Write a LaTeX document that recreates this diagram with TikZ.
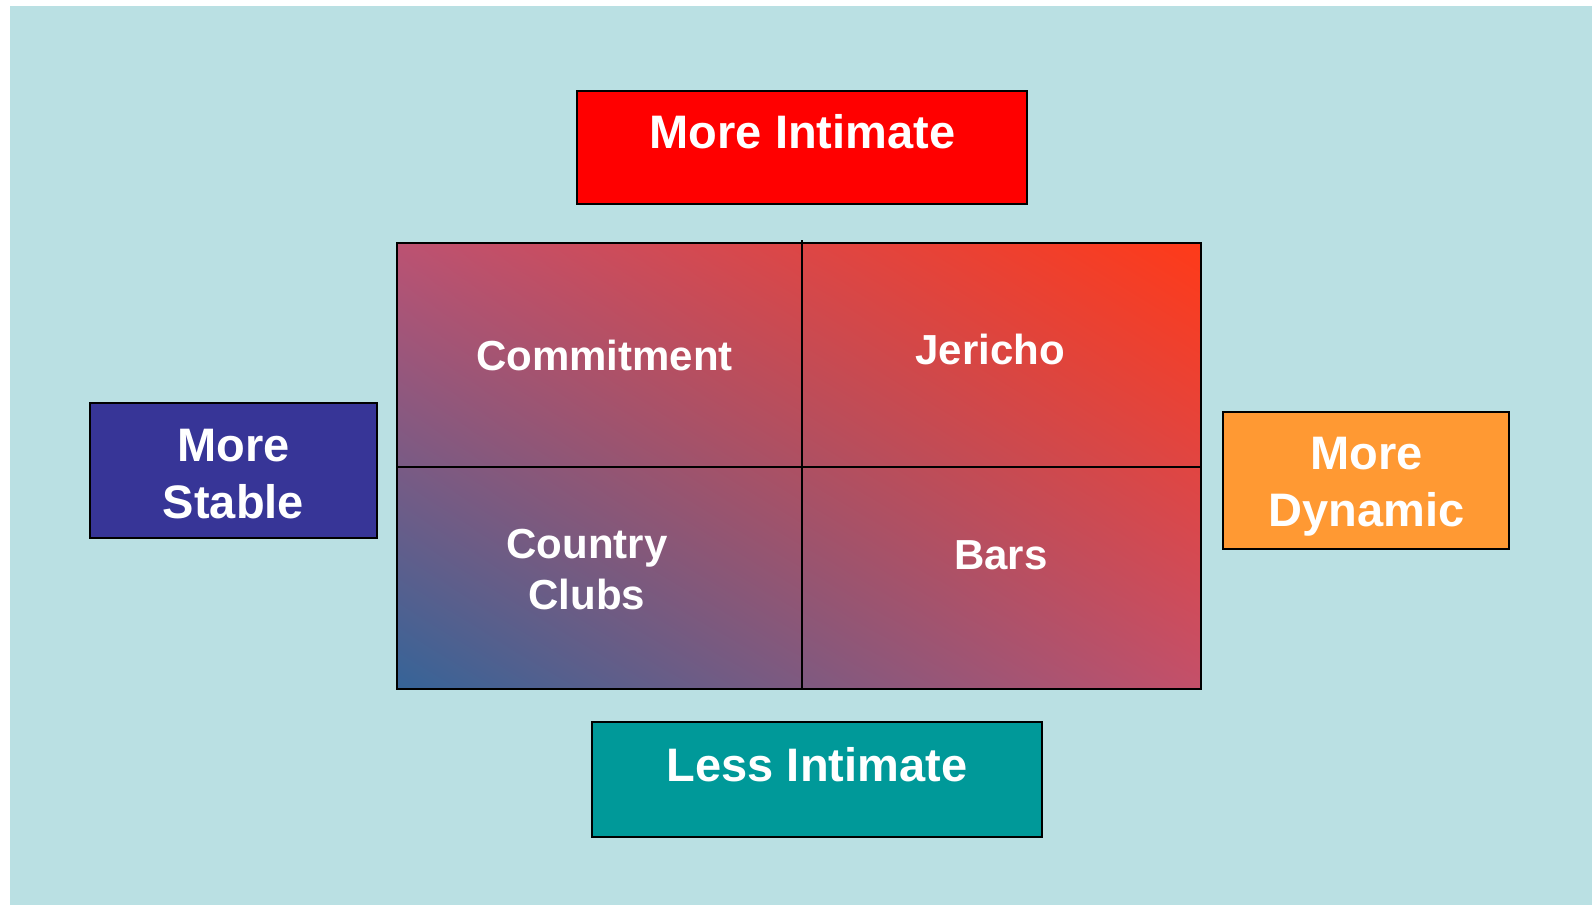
\documentclass[tikz,border=0pt]{standalone}
\usepackage{fontspec}
\setmainfont{Liberation Sans}
\usetikzlibrary{shadings}
\definecolor{bgc}{HTML}{BAE0E3}
\definecolor{topred}{HTML}{FF0000}
\definecolor{stableblue}{HTML}{373597}
\definecolor{dynorange}{HTML}{FF9933}
\definecolor{lessteal}{HTML}{009999}
\definecolor{gUL}{HTML}{BC5272}
\definecolor{gUR}{HTML}{FF3A18}
\definecolor{gLL}{HTML}{356498}
\definecolor{gLR}{HTML}{C4506A}
\begin{document}
\begin{tikzpicture}[x=1bp,y=-1bp,
  box/.style={draw=black, line width=1.5bp, inner sep=0pt, outer sep=0pt},
  gridline/.style={draw=black, line width=1.5bp},
  boxtxt/.style={text=white, font=\fontsize{47bp}{57bp}\selectfont\bfseries, align=center, inner sep=0pt, anchor=base},
  celltxt/.style={text=white, font=\fontsize{42bp}{51bp}\selectfont\bfseries, align=center, inner sep=0pt, anchor=base},
]
\useasboundingbox (0,0) rectangle (1592,905);
\fill[bgc] (10,6) rectangle (1592,905);

% side boxes
\node[box, fill=topred, minimum width=450bp, minimum height=113bp] (topbox) at (802,147.5) {};
\node[box, fill=stableblue, minimum width=287bp, minimum height=135bp] (leftbox) at (233.5,470.5) {};
\node[box, fill=dynorange, minimum width=286bp, minimum height=137bp] (rightbox) at (1366,480.5) {};
\node[box, fill=lessteal, minimum width=450bp, minimum height=115bp] (bottombox) at (817,779.5) {};

% grid
\node[box, upper left=gUL, upper right=gUR, lower left=gLL, lower right=gLR,
      minimum width=804bp, minimum height=446bp] (grid) at (799,466) {};
\coordinate (vt) at (802,240);
\coordinate (vb) at (802,689);
\coordinate (hl) at (397,467);
\coordinate (hr) at (1201,467);
\draw[gridline] (vt) -- (vb);
\draw[gridline] (hl) -- (hr);

% labels (multi-line nodes: base = baseline of last line)
\node[boxtxt] (tMI) at (802.5,148) {More Intimate};
\node[boxtxt] (tLI) at (817,781) {Less Intimate};
\node[boxtxt] (tMS) at (233.5,518) {More\\Stable};
\node[boxtxt] (tMD) at (1366.5,526) {More\\Dynamic};
\node[celltxt] (tCo) at (604.5,370) {Commitment};
\node[celltxt] (tJe) at (990,364) {Jericho};
\node[celltxt] (tCC) at (587,609) {Country\\Clubs};
\node[celltxt] (tBa) at (1001,569) {Bars};
\end{tikzpicture}
\end{document}
